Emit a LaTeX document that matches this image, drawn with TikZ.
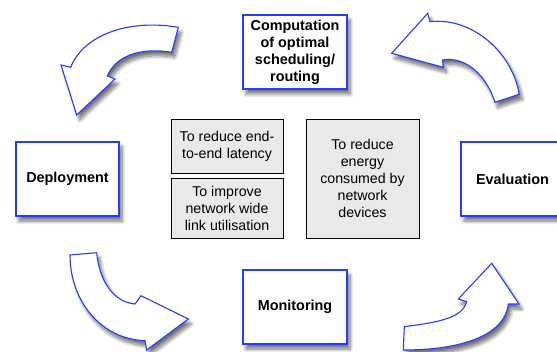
\documentclass[tikz,border=0pt]{standalone}
\usepackage{fontspec}
\setmainfont{Liberation Sans}
\usetikzlibrary{shadows.blur}
\definecolor{bblue}{RGB}{35,60,255}
\definecolor{gfill}{RGB}{233,233,233}
\begin{document}
\begin{tikzpicture}[x=1pt,y=-1pt,
  shadowed/.style={blur shadow={shadow xshift=3pt,shadow yshift=-5pt,shadow blur radius=3.5pt,shadow blur steps=10,shadow opacity=55}},
  stage/.style={shadowed, draw=bblue, line width=1.2pt, fill=white, inner sep=1pt,
    font=\bfseries\fontsize{14.4}{17}\selectfont, align=center},
  goal/.style={draw=black, line width=0.8pt, fill=gfill, inner sep=1pt,
    font=\fontsize{14.2}{17}\selectfont, align=center},
  barrow/.style={shadowed, draw=bblue, line width=1.1pt, fill=white, line join=miter}
]
\useasboundingbox (0,0) rectangle (557,352);
\begin{scope}
\clip (0,0) rectangle (557,352);
% stages
\node[stage, minimum width=104pt, minimum height=74pt] (comp) at (295,52) {Computation\\of optimal\\scheduling/\\routing};
\node[stage, minimum width=103pt, minimum height=74pt] (depl) at (67.5,179) {Deployment};
\node[stage, minimum width=103pt, minimum height=74pt] (eval) at (512.5,179) {Evaluation};
\node[stage, minimum width=104pt, minimum height=74pt] (moni) at (295,307) {Monitoring};
% goals
\node[goal, minimum width=112pt, minimum height=54pt] (lat) at (227,146) {To reduce end-\\to-end\hspace{4.5pt}latency};
\node[goal, minimum width=112pt, minimum height=60pt] (link) at (227,208) {To improve\\network wide\\link utilisation};
\node[goal, minimum width=113pt, minimum height=119pt] (energy) at (362.5,178.5) {To reduce\\energy\\consumed by\\network\\devices};
% curved block arrows
\draw[barrow] (178.3,27.3) .. controls (130,19) and (84,34) .. (70.7,67.3)
  -- (61,65) -- (76.7,115) -- (115,79) -- (107.3,76)
  .. controls (116,56) and (140,47) .. (171.7,52.3) -- cycle;
\draw[barrow] (519.3,94.3) .. controls (512,52) and (472,17) .. (430,21.7)
  -- (427.7,13.3) -- (391.7,53.3) -- (443.3,67.3) -- (442.5,60)
  .. controls (466,56) and (486,75) .. (495,102.3) -- cycle;
\draw[barrow] (70,255) .. controls (70,300) and (100,339) .. (145,340.7)
  -- (146.7,350) -- (188.3,319) -- (141,295.7) -- (135,304)
  .. controls (113,302) and (99,280) .. (96.7,252.7) -- cycle;
\draw[barrow] (403.3,350) .. controls (460,350) and (505,336) .. (508.3,304)
  -- (519,304) -- (491.7,263.3) -- (458.3,299) -- (466.7,301.7)
  .. controls (462,318) and (440,322) .. (404.3,326.7) -- cycle;
\end{scope}
\end{tikzpicture}
\end{document}
